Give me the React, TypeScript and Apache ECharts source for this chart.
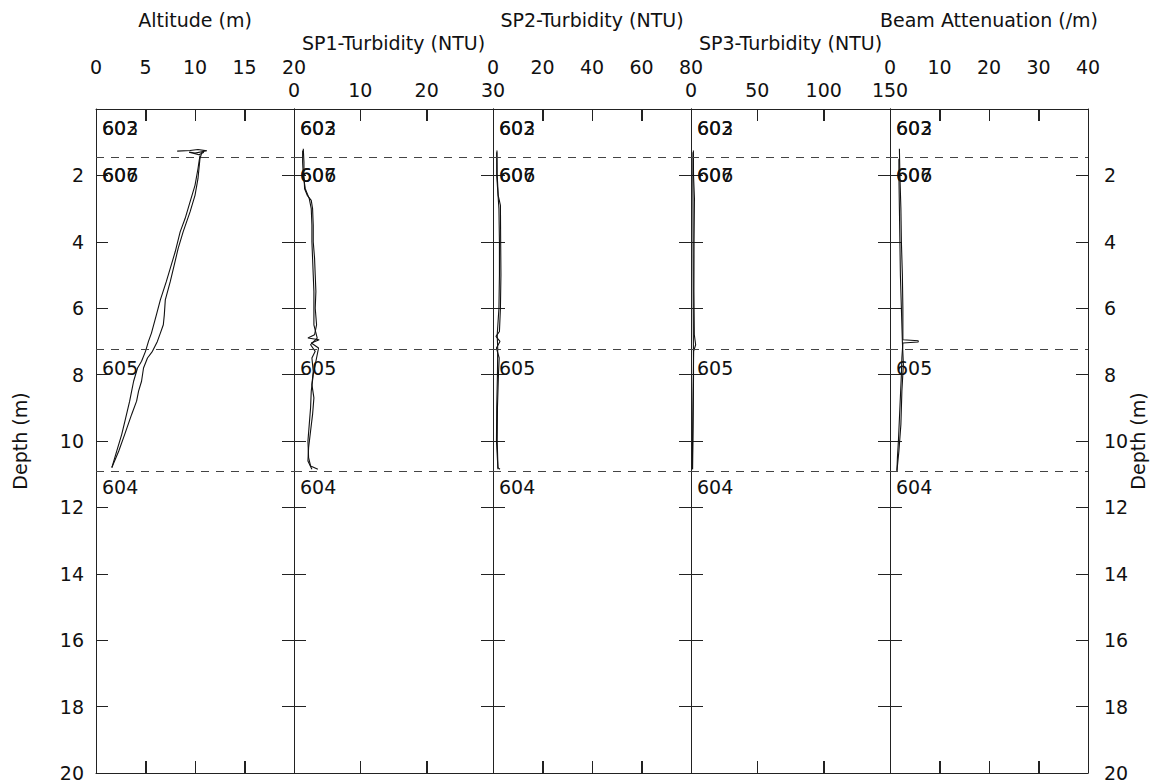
import React, { useEffect, useRef } from "react";
import * as echarts from "echarts";

// ---------- panels ----------
const panelTitles = [
  "Altitude (m)",
  "SP1-Turbidity (NTU)",
  "SP2-Turbidity (NTU)",
  "SP3-Turbidity (NTU)",
  "Beam Attenuation (/m)",
];
const panelMax = [20, 30, 80, 150, 40];
const panelInterval = [5, 10, 20, 50, 10];

// ---------- stations ----------
const stationNames = ["602", "603", "606", "607", "605", "604"];
const stationDepths = [0.57, 0.57, 2.0, 2.0, 7.8, 11.4];
const boundaryDepths = [1.45, 7.25, 10.9];

// ---------- Altitude ----------
const altDepthA = [1.3, 1.5, 2.1, 2.6, 3.1, 3.7, 4.2, 4.7, 5.2, 5.75, 6.2, 6.5, 6.75, 7.0, 7.3, 7.5, 7.8, 8.2, 8.5, 8.8, 9.2, 9.8, 10.3, 10.8];
const altValA = [10.7, 10.5, 10.3, 10.0, 9.5, 8.8, 8.3, 7.9, 7.5, 7.0, 6.9, 6.8, 6.5, 6.2, 5.7, 5.2, 4.8, 4.6, 4.3, 4.1, 3.6, 2.9, 2.3, 1.6];
const altDepthB = [1.4, 1.8, 2.3, 2.8, 3.3, 3.7, 4.3, 4.8, 5.2, 5.75, 6.2, 6.75, 7.0, 7.3, 7.6, 7.8, 8.2, 8.5, 8.8, 9.3, 9.8, 10.3, 10.8];
const altValB = [10.5, 10.3, 10.0, 9.5, 9.0, 8.5, 8.0, 7.5, 7.1, 6.5, 6.1, 5.6, 5.3, 5.0, 4.6, 4.2, 3.8, 3.6, 3.4, 3.0, 2.6, 2.1, 1.6];
const altDepthC = [1.27, 1.25, 1.22, 1.26, 1.33, 1.3, 1.38, 1.3];
const altValC = [8.2, 9.5, 10.3, 11.2, 10.0, 9.4, 10.4, 10.9];

// ---------- SP1 ----------
const sp1DepthA = [1.2, 1.6, 2.0, 2.4, 2.6, 2.75, 3.0, 3.5, 4.0, 4.5, 5.0, 5.5, 6.0, 6.5, 6.8, 6.9, 6.95, 7.05, 7.2, 7.5, 8.0, 8.5, 9.0, 9.5, 10.0, 10.5, 10.75, 10.85];
const sp1ValA = [1.4, 1.5, 1.5, 1.6, 2.0, 2.6, 2.8, 2.9, 2.9, 3.1, 3.2, 3.3, 3.2, 3.4, 3.1, 2.1, 3.8, 2.6, 3.7, 3.4, 2.9, 2.6, 2.5, 2.3, 2.1, 2.2, 2.5, 3.6];
const sp1DepthB = [10.85, 10.6, 10.2, 9.7, 9.2, 8.7, 8.3, 7.9, 7.5, 7.3, 7.1, 6.9, 6.5, 6.0, 5.5, 5.0, 4.5, 4.0, 3.5, 3.0, 2.7, 2.4, 2.0, 1.6, 1.25];
const sp1ValB = [2.7, 2.1, 2.2, 2.5, 2.8, 3.0, 2.7, 2.9, 2.7, 3.2, 2.5, 3.5, 3.0, 3.0, 3.0, 2.9, 2.8, 2.7, 2.7, 2.6, 2.3, 1.7, 1.4, 1.3, 1.3];

// ---------- SP2 ----------
const sp2DepthA = [1.25, 2.0, 2.6, 2.9, 4.0, 5.0, 6.0, 6.7, 6.85, 7.0, 7.2, 7.5, 8.0, 9.0, 10.0, 10.8, 10.85];
const sp2ValA = [1.6, 1.7, 2.1, 3.0, 3.1, 3.2, 3.0, 2.6, 1.2, 2.8, 1.4, 2.5, 2.2, 1.8, 1.7, 2.0, 2.8];
const sp2DepthB = [10.85, 10.0, 9.0, 8.0, 7.2, 6.8, 6.0, 5.0, 4.0, 3.0, 2.0, 1.3];
const sp2ValB = [2.0, 1.4, 1.5, 1.8, 1.9, 1.7, 2.4, 2.6, 2.6, 2.4, 1.5, 1.5];

// ---------- SP3 ----------
const sp3DepthA = [1.25, 2.0, 2.7, 4.0, 5.5, 6.8, 7.1, 7.3, 8.5, 9.5, 10.85];
const sp3ValA = [1.8, 1.9, 2.6, 2.3, 2.2, 2.5, 3.5, 2.0, 1.6, 1.3, 1.0];
const sp3DepthB = [10.85, 9.5, 8.0, 7.0, 6.0, 4.5, 3.0, 2.0, 1.3];
const sp3ValB = [1.2, 1.6, 1.9, 1.8, 1.7, 1.6, 1.5, 1.4, 1.5];

// ---------- Beam attenuation ----------
const beamDepthA = [1.2, 2.0, 3.0, 4.0, 5.0, 6.0, 6.95, 6.98, 7.02, 7.05, 7.5, 8.0, 9.0, 10.0, 10.5, 10.9];
const beamValA = [1.9, 2.0, 2.2, 2.3, 2.5, 2.6, 2.6, 5.7, 5.7, 2.6, 2.4, 2.3, 2.0, 1.7, 1.5, 1.4];
const beamDepthB = [10.9, 10.3, 9.5, 8.5, 7.7, 7.0, 6.0, 5.0, 4.0, 3.0, 2.0, 1.5];
const beamValB = [1.4, 1.8, 2.2, 2.4, 2.7, 2.5, 2.3, 2.1, 2.0, 1.9, 1.8, 1.8];

const panelTraces: [number[], number[]][][] = [
  [[altValA, altDepthA], [altValB, altDepthB], [altValC, altDepthC]],
  [[sp1ValA, sp1DepthA], [sp1ValB, sp1DepthB]],
  [[sp2ValA, sp2DepthA], [sp2ValB, sp2DepthB]],
  [[sp3ValA, sp3DepthA], [sp3ValB, sp3DepthB]],
  [[beamValA, beamDepthA], [beamValB, beamDepthB]],
];

const FONT = "DejaVu Sans";
const FS = 19;
const INK = "#111";
const AXIS = "#222";
const DEPTH_MAX = 20;
const TICK_LEN = 12;

const mkLine = () => ({ show: true, onZero: false, lineStyle: { color: AXIS, width: 1 } });
const mkTick = () => ({ show: true, inside: true, length: TICK_LEN, lineStyle: { color: AXIS, width: 1 } });

function buildOption() {
  const edges = [96, 294, 493, 691, 890, 1088];
  const TOP = 109;
  const H = 664;
  const grid: any[] = [];
  const xAxis: any[] = [];
  const yAxis: any[] = [];
  const series: any[] = [];

  panelTitles.forEach((title, i) => {
    grid.push({ left: edges[i], top: TOP, width: edges[i + 1] - edges[i], height: H });
    const upper = i % 2 === 0;
    xAxis.push({
      type: "value",
      gridIndex: i,
      position: "top",
      min: 0,
      max: panelMax[i],
      interval: panelInterval[i],
      name: title,
      nameLocation: "middle",
      nameGap: upper ? 80 : 57,
      nameTextStyle: { fontFamily: FONT, fontSize: FS, color: INK },
      axisLine: mkLine(),
      axisTick: mkTick(),
      axisLabel: {
        show: true,
        margin: upper ? 33 : 10,
        fontFamily: FONT,
        fontSize: FS,
        color: INK,
        showMinLabel: true,
        showMaxLabel: true,
      },
      splitLine: { show: false },
    });
    xAxis.push({
      type: "value",
      gridIndex: i,
      position: "bottom",
      min: 0,
      max: panelMax[i],
      interval: panelInterval[i],
      axisLine: mkLine(),
      axisTick: mkTick(),
      axisLabel: { show: false },
      splitLine: { show: false },
    });
    yAxis.push({
      type: "value",
      gridIndex: i,
      position: "left",
      inverse: true,
      min: 0,
      max: DEPTH_MAX,
      interval: 2,
      name: i === 0 ? "Depth (m)" : undefined,
      nameLocation: "middle",
      nameGap: 67,
      nameRotate: 90,
      nameMoveOverlap: false,
      nameTextStyle: { fontFamily: FONT, fontSize: FS, color: INK },
      axisLine: mkLine(),
      axisTick: mkTick(),
      axisLabel: {
        show: i === 0,
        margin: 12,
        fontFamily: FONT,
        fontSize: FS,
        color: INK,
        showMinLabel: false,
      },
      splitLine: { show: false },
    });
    yAxis.push({
      type: "value",
      gridIndex: i,
      position: "right",
      inverse: true,
      min: 0,
      max: DEPTH_MAX,
      interval: 2,
      name: i === 4 ? "Depth (m)" : undefined,
      nameLocation: "middle",
      nameGap: 40,
      nameRotate: 90,
      nameMoveOverlap: false,
      nameTextStyle: { fontFamily: FONT, fontSize: FS, color: INK },
      axisLine: mkLine(),
      axisTick: mkTick(),
      axisLabel: {
        show: i === 4,
        margin: 16,
        fontFamily: FONT,
        fontSize: FS,
        color: INK,
        showMinLabel: false,
      },
      splitLine: { show: false },
    });

    panelTraces[i].forEach(([vals, depths]) => {
      series.push({
        type: "line",
        xAxisIndex: 2 * i,
        yAxisIndex: 2 * i,
        data: vals.map((v, k) => [v, depths[k]]),
        showSymbol: false,
        symbol: "none",
        lineStyle: { color: INK, width: 1.1 },
        silent: true,
      });
    });

    series.push({
      type: "scatter",
      xAxisIndex: 2 * i,
      yAxisIndex: 2 * i,
      symbolSize: 0,
      clip: false,
      silent: true,
      itemStyle: { opacity: 1 },
      data: stationNames.map((n, k) => [0, stationDepths[k], n]),
      label: {
        show: true,
        position: "right",
        distance: 6,
        opacity: 1,
        fontFamily: FONT,
        fontSize: FS,
        color: INK,
        formatter: (p: any) => p.data[2],
      },
      markLine: {
        silent: true,
        symbol: ["none", "none"],
        label: { show: false },
        lineStyle: { type: [8, 7], color: "#444", width: 1 },
        data: boundaryDepths.map((d) => ({ yAxis: d })),
      },
    });

    // inward frame ticks on top and bottom edges, positioned through the axis scale
    const tickVals: number[] = [];
    for (let v = panelInterval[i]; v < panelMax[i]; v += panelInterval[i]) tickVals.push(v);
    series.push({
      type: "custom",
      xAxisIndex: 2 * i,
      yAxisIndex: 2 * i,
      silent: true,
      clip: false,
      z: 20,
      encode: { x: 0, y: 1 },
      data: tickVals.map((v) => [v, 0]),
      renderItem: (_params: any, api: any) => {
        const v = api.value(0);
        const top = api.coord([v, 0]);
        const bot = api.coord([v, DEPTH_MAX]);
        const x = Math.round(top[0]) + 0.5;
        return {
          type: "group",
          children: [
            {
              type: "line",
              shape: { x1: x, y1: top[1], x2: x, y2: top[1] + TICK_LEN },
              style: { stroke: AXIS, lineWidth: 1 },
            },
            {
              type: "line",
              shape: { x1: x, y1: bot[1], x2: x, y2: bot[1] - TICK_LEN },
              style: { stroke: AXIS, lineWidth: 1 },
            },
          ],
        };
      },
    });
  });

  return {
    animation: false,
    grid,
    xAxis,
    yAxis,
    series,
  };
}

export default function App() {
  const ref = useRef<HTMLDivElement>(null);
  useEffect(() => {
    if (!ref.current) return;
    const chart = echarts.init(ref.current, undefined, { renderer: "svg" });
    chart.setOption(buildOption() as any);
    return () => chart.dispose();
  }, []);
  return (
    <div
      ref={ref}
      style={{ position: "fixed", left: 0, top: 0, width: 1153, height: 784, background: "#fff" }}
    />
  );
}
